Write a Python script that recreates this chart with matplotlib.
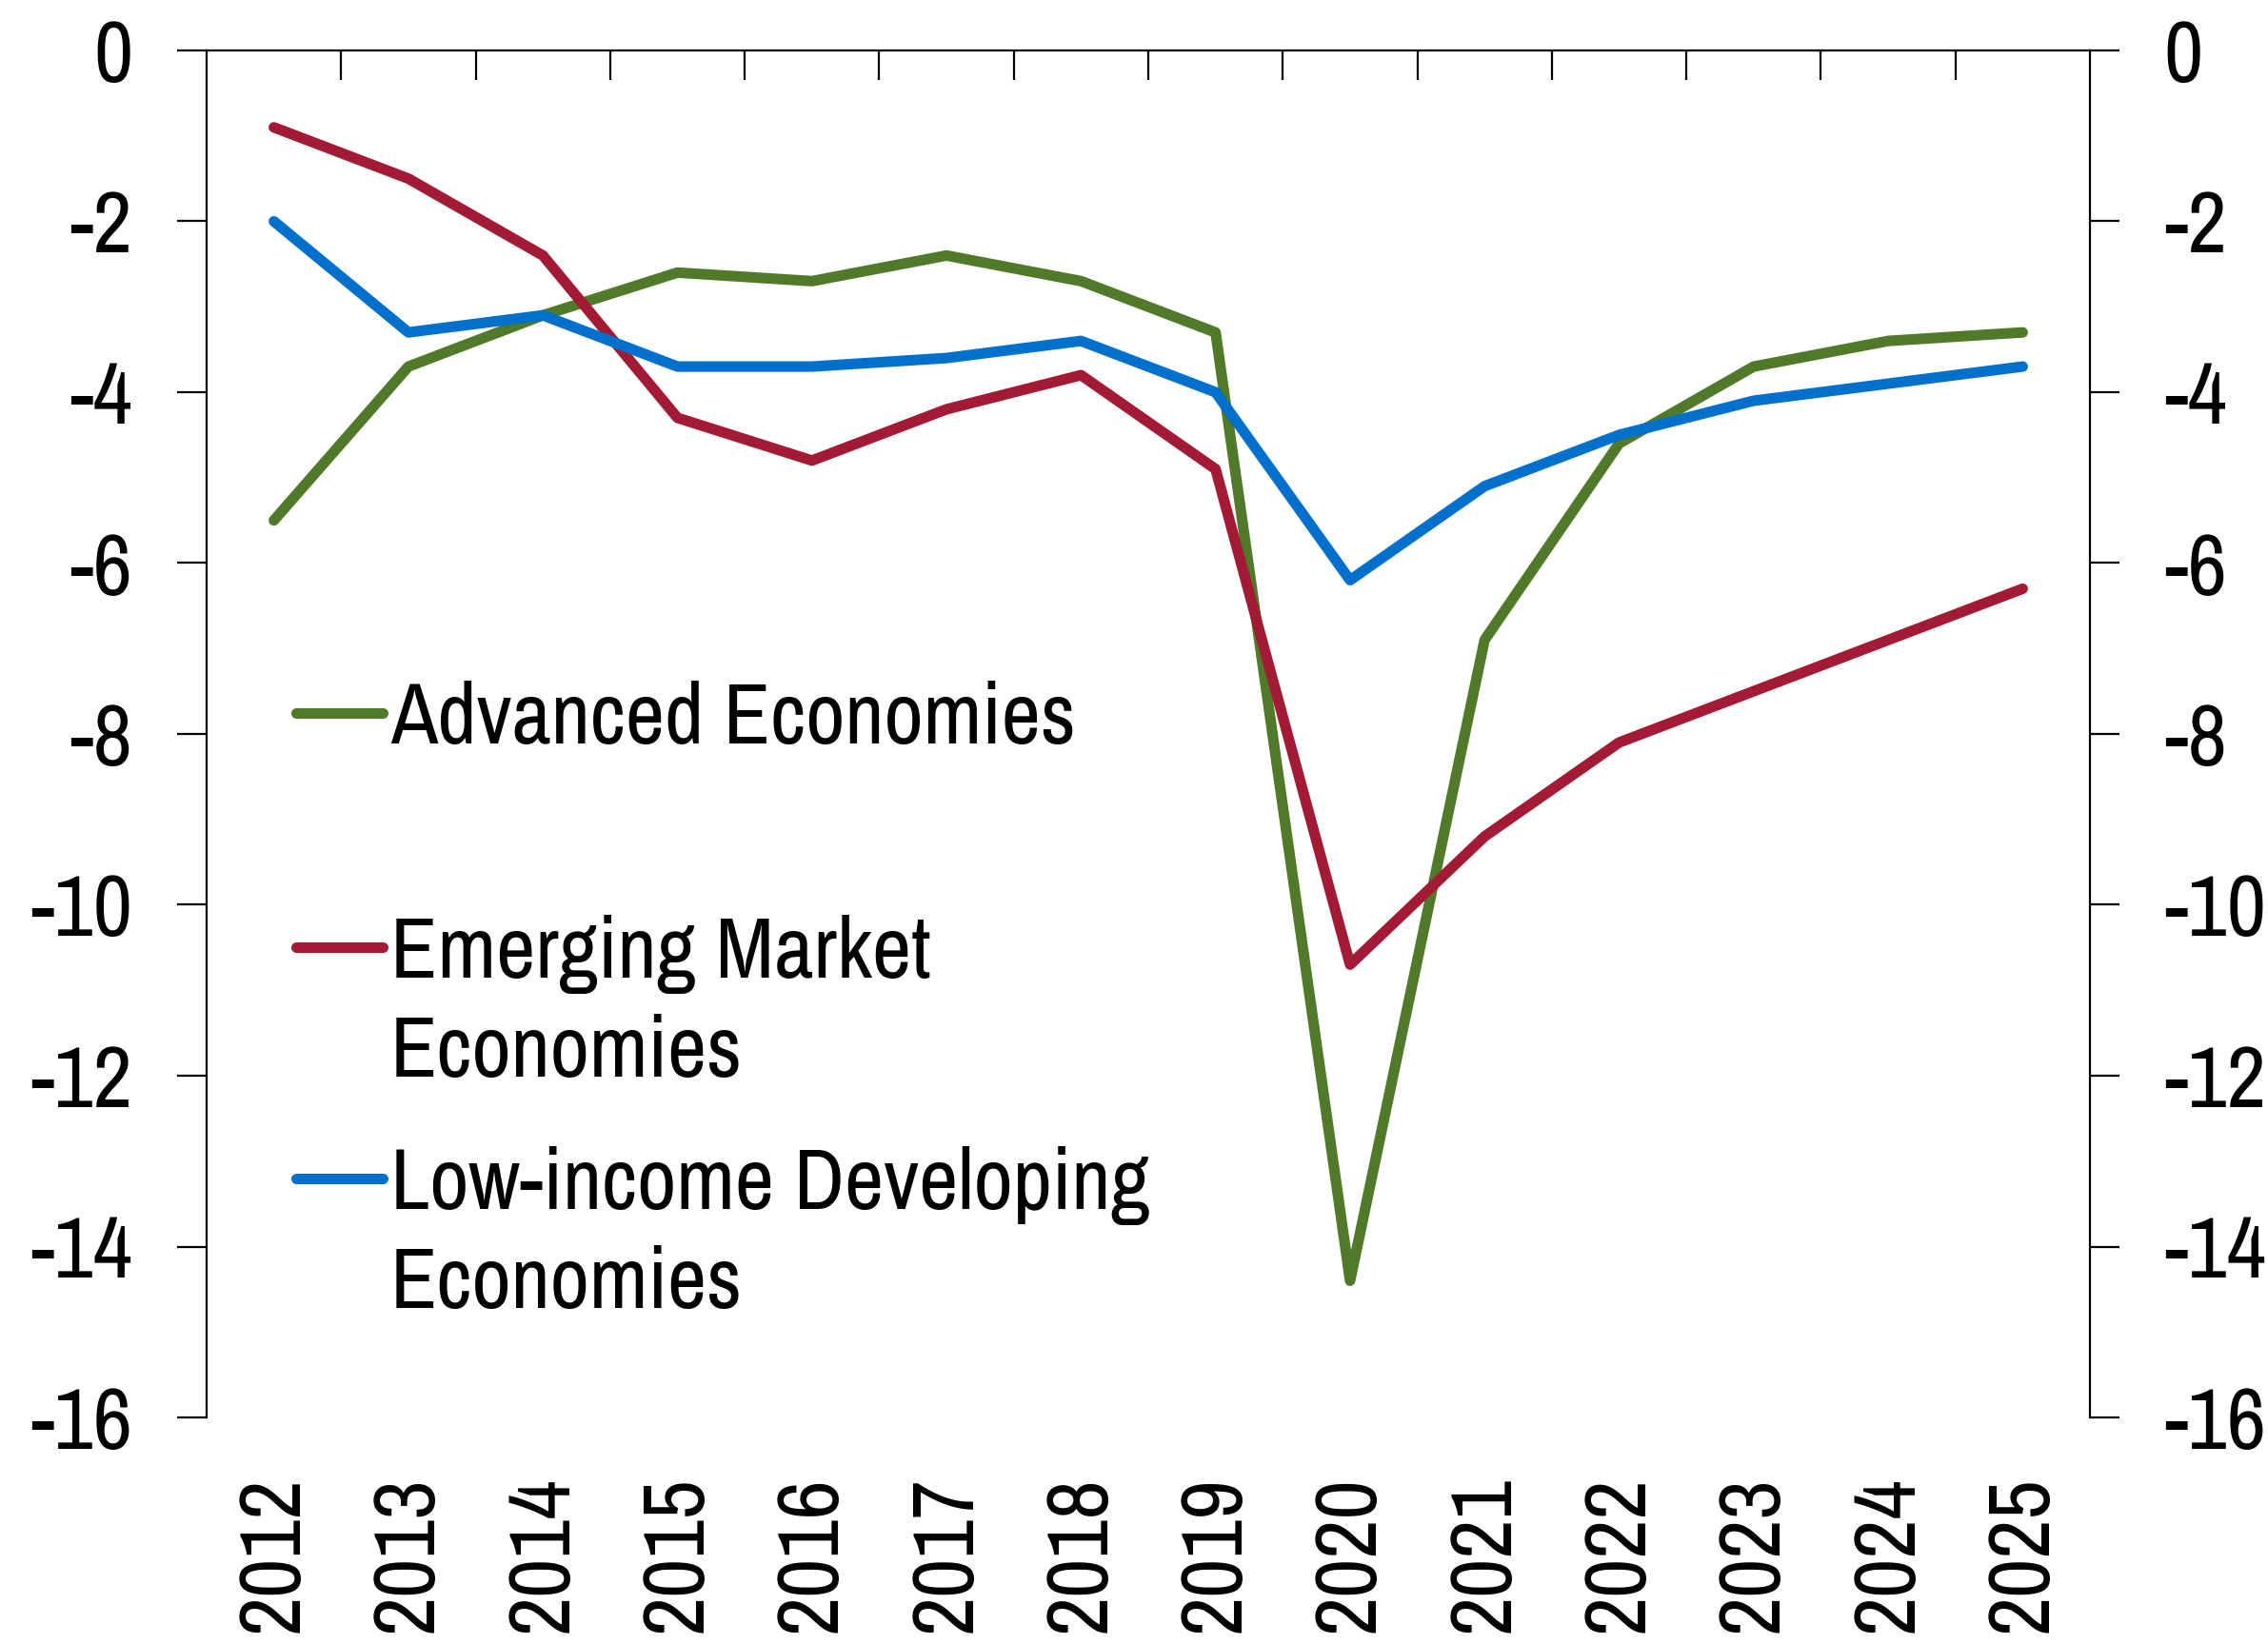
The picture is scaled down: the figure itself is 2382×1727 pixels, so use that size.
import matplotlib
matplotlib.use("Agg")
import matplotlib.pyplot as plt
from matplotlib import font_manager

years = ["2012", "2013", "2014", "2015", "2016", "2017", "2018",
         "2019", "2020", "2021", "2022", "2023", "2024", "2025"]
advanced = [-5.5, -3.7, -3.1, -2.6, -2.7, -2.4, -2.7,
            -3.3, -14.4, -6.9, -4.6, -3.7, -3.4, -3.3]
emerging = [-0.9, -1.5, -2.4, -4.3, -4.8, -4.2, -3.8,
            -4.9, -10.7, -9.2, -8.1, -7.5, -6.9, -6.3]
lowincome = [-2.0, -3.3, -3.1, -3.7, -3.7, -3.6, -3.4,
             -4.0, -6.2, -5.1, -4.5, -4.1, -3.9, -3.7]
series_labels = ["Advanced Economies", "Emerging Market\nEconomies",
                 "Low-income Developing\nEconomies"]
colors = ["#507A2A", "#A21A33", "#0070CC"]
yticks = [0, -2, -4, -6, -8, -10, -12, -14, -16]

names = {f.name for f in font_manager.fontManager.ttflist}
fam = ["Archivo Narrow", "Roboto Condensed", "Liberation Sans", "DejaVu Sans"]
fam = [f for f in fam if f in names] or ["DejaVu Sans"]
plt.rcParams["font.family"] = fam

FS = 65
W, H = 2382, 1727
fig = plt.figure(figsize=(W / 100, H / 100), dpi=100)
ax_l, ax_r, ax_t, ax_b = 217, 2195, 53, 1489
ax = fig.add_axes([ax_l / W, 1 - ax_b / H, (ax_r - ax_l) / W, (ax_b - ax_t) / H])

LW = 8.0
x = list(range(len(years)))
for vals, c in zip([advanced, emerging, lowincome], colors):
    ax.plot(x, vals, color=c, lw=LW, solid_capstyle="round", solid_joinstyle="round")

ax.set_xlim(-0.5, len(years) - 0.5)
ax.set_ylim(-16, 0)

ax.set_yticks(yticks)
ax.set_yticklabels([str(v) for v in yticks])
ax.tick_params(axis="y", which="major", direction="out", length=22, width=1.6,
               left=True, right=True, labelleft=True, labelright=True,
               labelsize=FS, pad=34)

ax.set_xticks(x)
ax.set_xticklabels(years, rotation=90, fontsize=FS)
ax.tick_params(axis="x", which="major", length=0, pad=44, bottom=True, top=False)
ax.set_xticks([i + 0.5 for i in range(len(years) - 1)], minor=True)
ax.tick_params(axis="x", which="minor", direction="in", length=22, width=1.6,
               top=True, bottom=False)

for s in ["left", "right", "top"]:
    ax.spines[s].set_linewidth(1.6)
ax.spines["bottom"].set_visible(False)

ah = ax_b - ax_t
aw = ax_r - ax_l
hx0 = (311 - ax_l) / aw
hx1 = (402 - ax_l) / aw
tx = (410 - ax_l) / aw
line_centers = [749, 995, 1238]
line_gap = 104
cap_half = 0.358 * FS * 100 / 72
for lab, c, yc in zip(series_labels, colors, line_centers):
    yf = (ax_b - yc) / ah
    ax.plot([hx0, hx1], [yf, yf], transform=ax.transAxes, color=c, lw=LW,
            solid_capstyle="round", clip_on=False)
    for k, part in enumerate(lab.split("\n")):
        yb = (ax_b - (yc + cap_half + k * line_gap)) / ah
        ax.text(tx, yb, part, transform=ax.transAxes, fontsize=FS,
                ha="left", va="baseline")

fig.savefig("out.png", dpi=100)
